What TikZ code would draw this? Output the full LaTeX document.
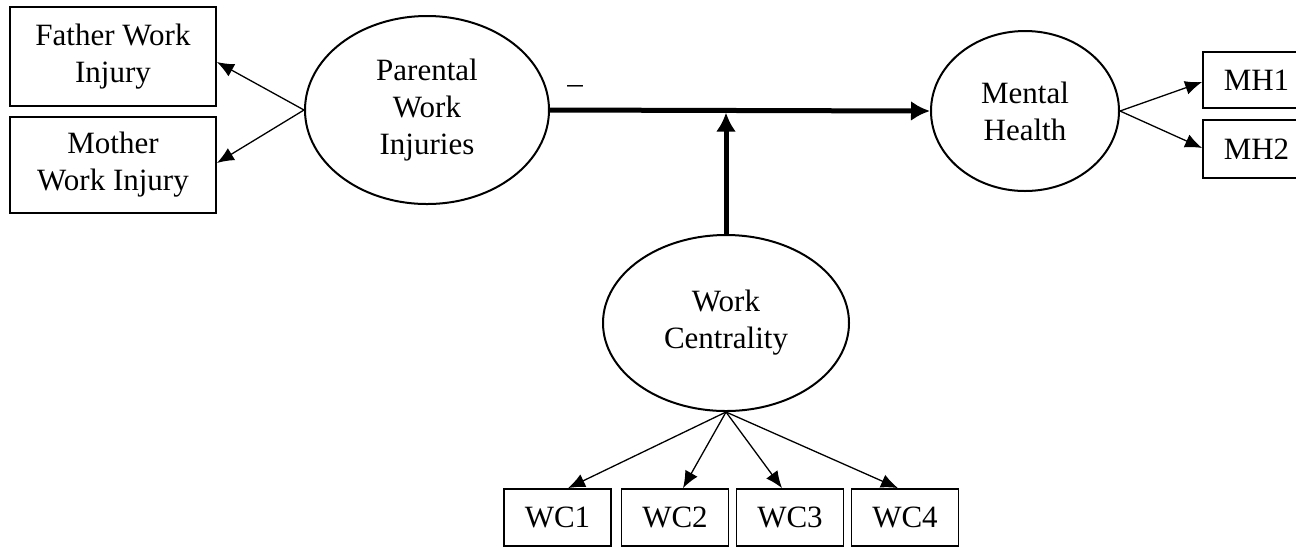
\documentclass[tikz,border=0pt]{standalone}
\usepackage{fontspec}
\setmainfont{Liberation Serif}
\usetikzlibrary{shapes.geometric, arrows.meta, positioning}

\begin{document}
\begin{tikzpicture}[x=0.5pt, y=-0.5pt, font=\fontsize{15.5}{18.5}\selectfont,
    latent/.style={ellipse, draw, line width=1pt, inner sep=0pt, align=center},
    item/.style={rectangle, draw, line width=0.9pt, inner sep=0pt, align=center},
    line/.style={draw, -{Latex[length=8.5pt, width=7pt]}, line width=0.65pt},
    effect/.style={draw, -{Latex[length=9.5pt, width=10pt]}, line width=2.5pt}]

    \useasboundingbox (0,0) rectangle (1296,548);

    % Latent variables
    \node [latent, minimum width=122pt, minimum height=94pt] (pwi) at (427,110) {Parental\\Work\\Injuries};
    \node [latent, minimum width=94pt, minimum height=80pt] (mh) at (1025,111) {Mental\\Health};
    \node [latent, minimum width=123pt, minimum height=88pt] (wc) at (726,323) {Work\\Centrality};

    % Indicators
    \node [item, minimum width=103pt, minimum height=49.5pt] (father) at (113,56.5) {Father Work\\Injury};
    \node [item, minimum width=103pt, minimum height=48pt] (mother) at (113,165) {Mother\\Work Injury};
    \node [item, minimum width=53.5pt, minimum height=28pt] (mh1) at (1256.5,80) {MH1};
    \node [item, minimum width=53.5pt, minimum height=29pt] (mh2) at (1256.5,149) {MH2};
    \node [item, minimum width=53.5pt, minimum height=28.5pt] (wc1) at (557.5,517.5) {WC1};
    \node [item, minimum width=53.5pt, minimum height=28.5pt] (wc2) at (675,517.5) {WC2};
    \node [item, minimum width=53.5pt, minimum height=28.5pt] (wc3) at (790,517.5) {WC3};
    \node [item, minimum width=53.5pt, minimum height=28.5pt] (wc4) at (905,517.5) {WC4};

    % Sign of the main path
    \node (minus) at (575,89) {--};
    \coordinate (joint) at (726,110);

    % Paths
    \path [line] (pwi.west) -- ([yshift=-2.75pt]father.east);
    \path [line] (pwi.west) -- ([yshift=1pt]mother.east);
    \path [line] (mh.east) -- ([yshift=-1pt]mh1.west);
    \path [line] (mh.east) -- ([yshift=0.5pt]mh2.west);
    \path [line] (wc.south) -- ([xshift=5.25pt]wc1.north);
    \path [line] (wc.south) -- ([xshift=4pt]wc2.north);
    \path [line] (wc.south) -- ([xshift=-4pt]wc3.north);
    \path [line] (wc.south) -- ([xshift=-3.5pt]wc4.north);
    \path [effect] (pwi.east) -- (mh.west);
    \path [effect, shorten >=1.3pt] (wc.north) -- (joint);
\end{tikzpicture}
\end{document}
